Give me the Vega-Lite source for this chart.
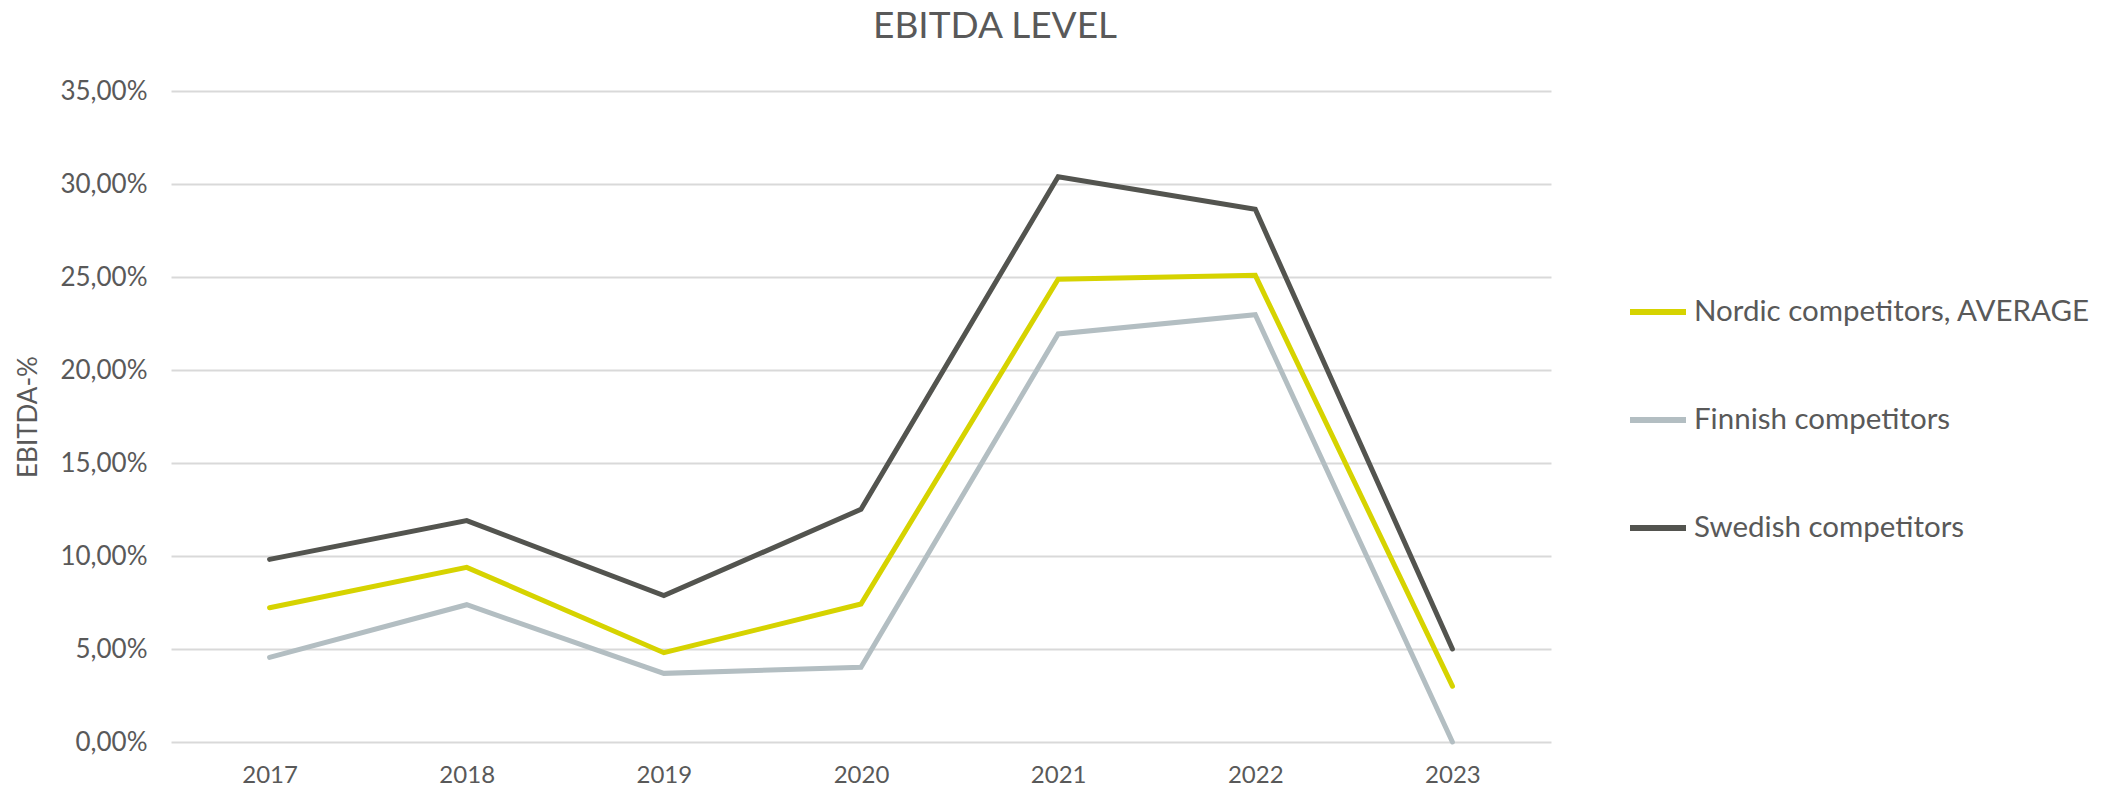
{
  "$schema": "https://vega.github.io/schema/vega-lite/v6.json",
  "width": 1380,
  "height": 651,
  "autosize": "none",
  "padding": {"left": 171, "top": 91, "right": 557, "bottom": 45},
  "background": "white",
  "title": {
    "text": "EBITDA LEVEL",
    "font": "Lato",
    "fontSize": 37,
    "fontWeight": "normal",
    "color": "#595959",
    "anchor": "middle",
    "dx": 134,
    "offset": 32
  },
  "data": {
    "values": [
      {"year": "2017", "series": "Nordic competitors, AVERAGE", "value": 7.22},
      {"year": "2018", "series": "Nordic competitors, AVERAGE", "value": 9.39},
      {"year": "2019", "series": "Nordic competitors, AVERAGE", "value": 4.80},
      {"year": "2020", "series": "Nordic competitors, AVERAGE", "value": 7.42},
      {"year": "2021", "series": "Nordic competitors, AVERAGE", "value": 24.88},
      {"year": "2022", "series": "Nordic competitors, AVERAGE", "value": 25.09},
      {"year": "2023", "series": "Nordic competitors, AVERAGE", "value": 3.0},
      {"year": "2017", "series": "Finnish competitors", "value": 4.55},
      {"year": "2018", "series": "Finnish competitors", "value": 7.38},
      {"year": "2019", "series": "Finnish competitors", "value": 3.69},
      {"year": "2020", "series": "Finnish competitors", "value": 4.02},
      {"year": "2021", "series": "Finnish competitors", "value": 21.94},
      {"year": "2022", "series": "Finnish competitors", "value": 22.97},
      {"year": "2023", "series": "Finnish competitors", "value": 0.0},
      {"year": "2017", "series": "Swedish competitors", "value": 9.82},
      {"year": "2018", "series": "Swedish competitors", "value": 11.9},
      {"year": "2019", "series": "Swedish competitors", "value": 7.87},
      {"year": "2020", "series": "Swedish competitors", "value": 12.51},
      {"year": "2021", "series": "Swedish competitors", "value": 30.39},
      {"year": "2022", "series": "Swedish competitors", "value": 28.64},
      {"year": "2023", "series": "Swedish competitors", "value": 5.0}
    ]
  },
  "mark": {"type": "line", "strokeWidth": 5, "strokeCap": "round", "strokeJoin": "miter"},
  "encoding": {
    "x": {
      "field": "year",
      "type": "ordinal",
      "scale": {"type": "point", "padding": 0.5},
      "axis": {
        "title": null,
        "labelAngle": 0,
        "domain": false,
        "ticks": false,
        "grid": false,
        "labelPadding": 21,
        "labelFontSize": 24,
        "labelFont": "Lato",
        "labelColor": "#595959"
      }
    },
    "y": {
      "field": "value",
      "type": "quantitative",
      "scale": {"domain": [0, 35], "nice": false, "zero": true},
      "axis": {
        "title": "EBITDA-%",
        "titleFont": "Lato",
        "titleFontSize": 26,
        "titleFontWeight": "normal",
        "titleColor": "#595959",
        "titlePadding": 18,
        "values": [0, 5, 10, 15, 20, 25, 30, 35],
        "labelExpr": "replace(format(datum.value, '.2f'), '.', ',') + '%'",
        "domain": false,
        "ticks": false,
        "labelPadding": 24,
        "labelFontSize": 26,
        "labelFont": "Lato",
        "labelColor": "#595959",
        "gridColor": "#d9d9d9",
        "gridWidth": 2
      }
    },
    "color": {
      "field": "series",
      "type": "nominal",
      "sort": ["Nordic competitors, AVERAGE", "Finnish competitors", "Swedish competitors"],
      "scale": {
        "domain": ["Nordic competitors, AVERAGE", "Finnish competitors", "Swedish competitors"],
        "range": ["#d6d300", "#b3bec2", "#53544f"]
      },
      "legend": {
        "title": null,
        "orient": "none",
        "legendX": 1456,
        "legendY": 190,
        "symbolType": "stroke",
        "symbolSize": 3136,
        "symbolStrokeWidth": 6,
        "labelOffset": 5,
        "labelFont": "Lato",
        "labelFontSize": 29.5,
        "labelColor": "#595959",
        "rowPadding": 62,
        "labelLimit": 650
      }
    }
  },
  "config": {"view": {"stroke": null}}
}
